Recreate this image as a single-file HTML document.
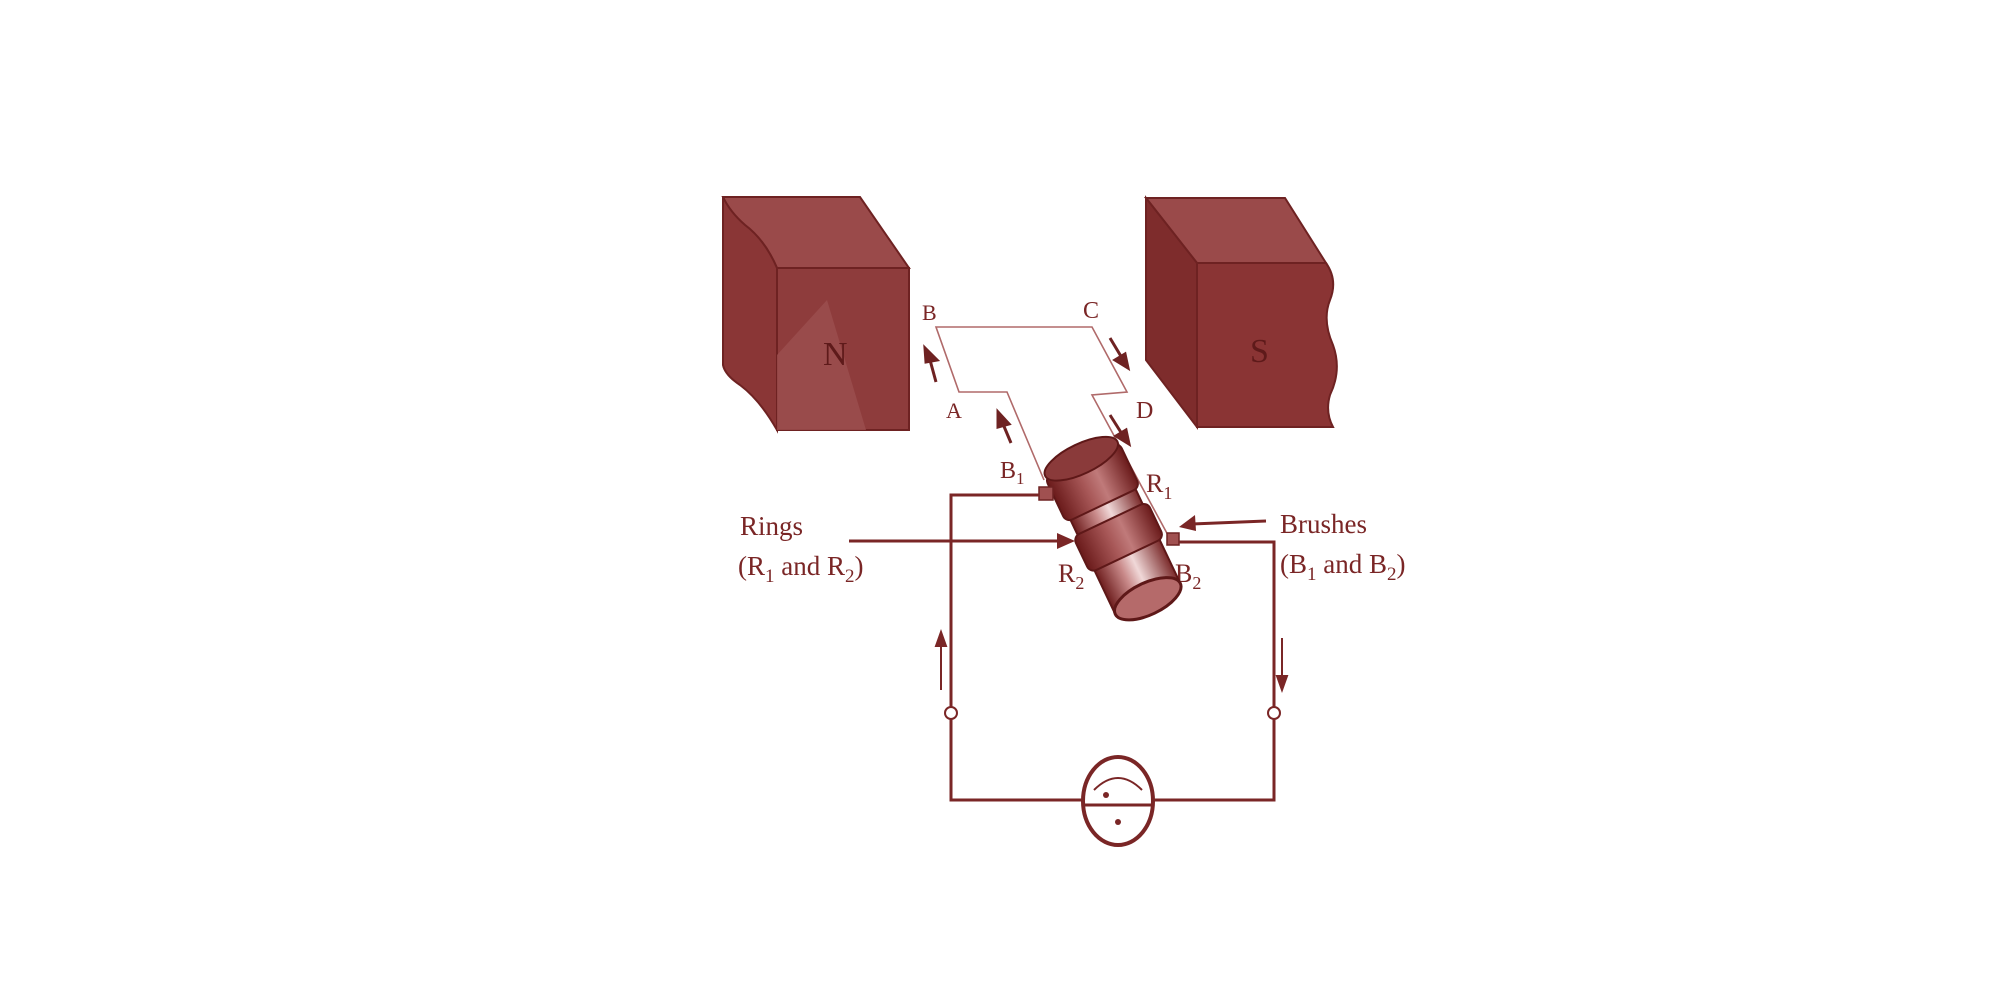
<!DOCTYPE html>
<html><head><meta charset="utf-8"><style>
html,body{margin:0;padding:0;background:#fff;}
svg{display:block}
text{font-family:"Liberation Serif",serif;fill:#7a2626;}
</style></head><body>
<svg width="2000" height="1000" viewBox="0 0 2000 1000" xmlns="http://www.w3.org/2000/svg">
<defs>
<linearGradient id="cyl" x1="0" x2="1" y1="0" y2="0">
<stop offset="0" stop-color="#6e1e1e"/><stop offset="0.35" stop-color="#c98a8a"/><stop offset="0.55" stop-color="#f0d8d8"/><stop offset="1" stop-color="#7a2a2a"/>
</linearGradient>
<linearGradient id="ring" x1="0" x2="1" y1="0" y2="0">
<stop offset="0" stop-color="#6a1a1a"/><stop offset="0.4" stop-color="#a85858"/><stop offset="0.6" stop-color="#c07a7a"/><stop offset="1" stop-color="#6a1a1a"/>
</linearGradient>
</defs>
<g stroke="#6e2222" stroke-width="2">
<path d="M723,197 L860,197 L909,268 L777,268 Q765,240 745,225 Q730,212 723,197Z" fill="#9a4a4a"/>
<path d="M723,197 Q730,212 745,225 Q765,240 777,268 L777,430 Q760,400 740,385 Q725,375 723,365Z" fill="#8a3636"/>
<rect x="777" y="268" width="132" height="162" fill="#8e3c3c"/>
<path d="M827,300 L866,430 L777,430 L777,355 Z" fill="#9c4f4f" stroke="none" opacity="0.8"/>
<path d="M1146,198 L1285,198 L1326,263 L1197,263Z" fill="#9a4a4a"/>
<path d="M1146,198 L1197,263 L1197,427 L1146,360Z" fill="#7e2c2c"/>
<path d="M1197,263 L1326,263 Q1338,280 1330,300 Q1322,320 1333,345 Q1342,370 1330,395 Q1325,412 1333,427 L1197,427Z" fill="#8a3434"/>
</g>
<text x="823" y="365" font-size="34" style="fill:#5e1a1a">N</text>
<text x="1250" y="362" font-size="34" style="fill:#5e1a1a">S</text>
<g fill="none" stroke="#b06a6a" stroke-width="1.6">
<path d="M1044,480 L1007,392 L959,392 L936,327 L1092,327 L1127,392 L1092,395 L1169,537"/>
</g>
<g stroke="#6e2222" stroke-width="3" fill="#6e2222">
<line x1="936" y1="382" x2="930" y2="360"/><path d="M925,348 L937,360 L926,362Z"/>
<line x1="1011" y1="443" x2="1003" y2="424"/><path d="M998,412 L1009,424 L998,427Z"/>
<line x1="1110" y1="338" x2="1122" y2="358"/><path d="M1128,368 L1115,360 L1125,354Z"/>
<line x1="1110" y1="415" x2="1122" y2="434"/><path d="M1129,444 L1116,436 L1126,430Z"/>
</g>
<text x="922" y="320" font-size="22">B</text>
<text x="1083" y="318" font-size="24">C</text>
<text x="946" y="418" font-size="22">A</text>
<text x="1136" y="418" font-size="24">D</text>
<text x="1000" y="478" font-size="24">B<tspan font-size="17" dy="6">1</tspan></text>
<text x="1146" y="492" font-size="26">R<tspan font-size="18" dy="7">1</tspan></text>
<text x="1058" y="582" font-size="26">R<tspan font-size="18" dy="7">2</tspan></text>
<text x="1175" y="582" font-size="26">B<tspan font-size="18" dy="7">2</tspan></text>
<g transform="translate(1080,456) rotate(-25.4)">
<rect x="-36" y="0" width="72" height="158" fill="url(#cyl)" stroke="#5e1818" stroke-width="2"/>
<rect x="-41" y="4" width="82" height="50" rx="7" fill="url(#ring)" stroke="#5e1818" stroke-width="2"/>
<rect x="-41" y="70" width="82" height="40" rx="7" fill="url(#ring)" stroke="#5e1818" stroke-width="2"/>
<ellipse cx="0" cy="3" rx="40" ry="15" fill="#8a3a3a" stroke="#5e1818" stroke-width="2"/>
<ellipse cx="0" cy="158" rx="36" ry="16" fill="#b56a6a" stroke="#5e1818" stroke-width="3"/>
</g>
<rect x="1039" y="487" width="14" height="13" fill="#a05050" stroke="#6e2222" stroke-width="1.5"/>
<rect x="1167" y="533" width="12" height="12" fill="#a05050" stroke="#6e2222" stroke-width="1.5"/>
<g fill="none" stroke="#7a2626" stroke-width="3">
<path d="M1039,495 L951,495 L951,707"/>
<path d="M951,719 L951,800 L1082,800"/>
<path d="M1179,542 L1274,542 L1274,707"/>
<path d="M1274,719 L1274,800 L1154,800"/>
<line x1="849" y1="541" x2="1062" y2="541"/>
<line x1="1266" y1="521" x2="1192" y2="524"/>
</g>
<g fill="#fff" stroke="#7a2626" stroke-width="2">
<circle cx="951" cy="713" r="6"/><circle cx="1274" cy="713" r="6"/>
</g>
<path d="M1075,541 L1057,533 L1057,549Z" fill="#7a2626"/>
<path d="M1179,527 L1195,515 L1196,531Z" fill="#7a2626"/>
<g stroke="#7a2626" stroke-width="2" fill="#7a2626">
<line x1="941" y1="690" x2="941" y2="645"/><path d="M941,632 L936,646 L946,646Z"/>
<line x1="1282" y1="638" x2="1282" y2="678"/><path d="M1282,690 L1277,676 L1287,676Z"/>
</g>
<ellipse cx="1118" cy="801" rx="35" ry="44" fill="#fff" stroke="#7a2626" stroke-width="4"/>
<path d="M1084,805 L1152,805" stroke="#7a2626" stroke-width="3"/>
<path d="M1094,790 Q1118,766 1142,790" fill="none" stroke="#7a2626" stroke-width="2"/>
<circle cx="1106" cy="795" r="3" fill="#7a2626"/><circle cx="1118" cy="822" r="3" fill="#7a2626"/>
<text x="740" y="535" font-size="27">Rings</text>
<text x="738" y="575" font-size="27">(R<tspan font-size="19" dy="7">1</tspan><tspan dy="-7"> and R</tspan><tspan font-size="19" dy="7">2</tspan><tspan dy="-7">)</tspan></text>
<text x="1280" y="533" font-size="27">Brushes</text>
<text x="1280" y="573" font-size="27">(B<tspan font-size="19" dy="7">1</tspan><tspan dy="-7"> and B</tspan><tspan font-size="19" dy="7">2</tspan><tspan dy="-7">)</tspan></text>
</svg>
</body></html>
